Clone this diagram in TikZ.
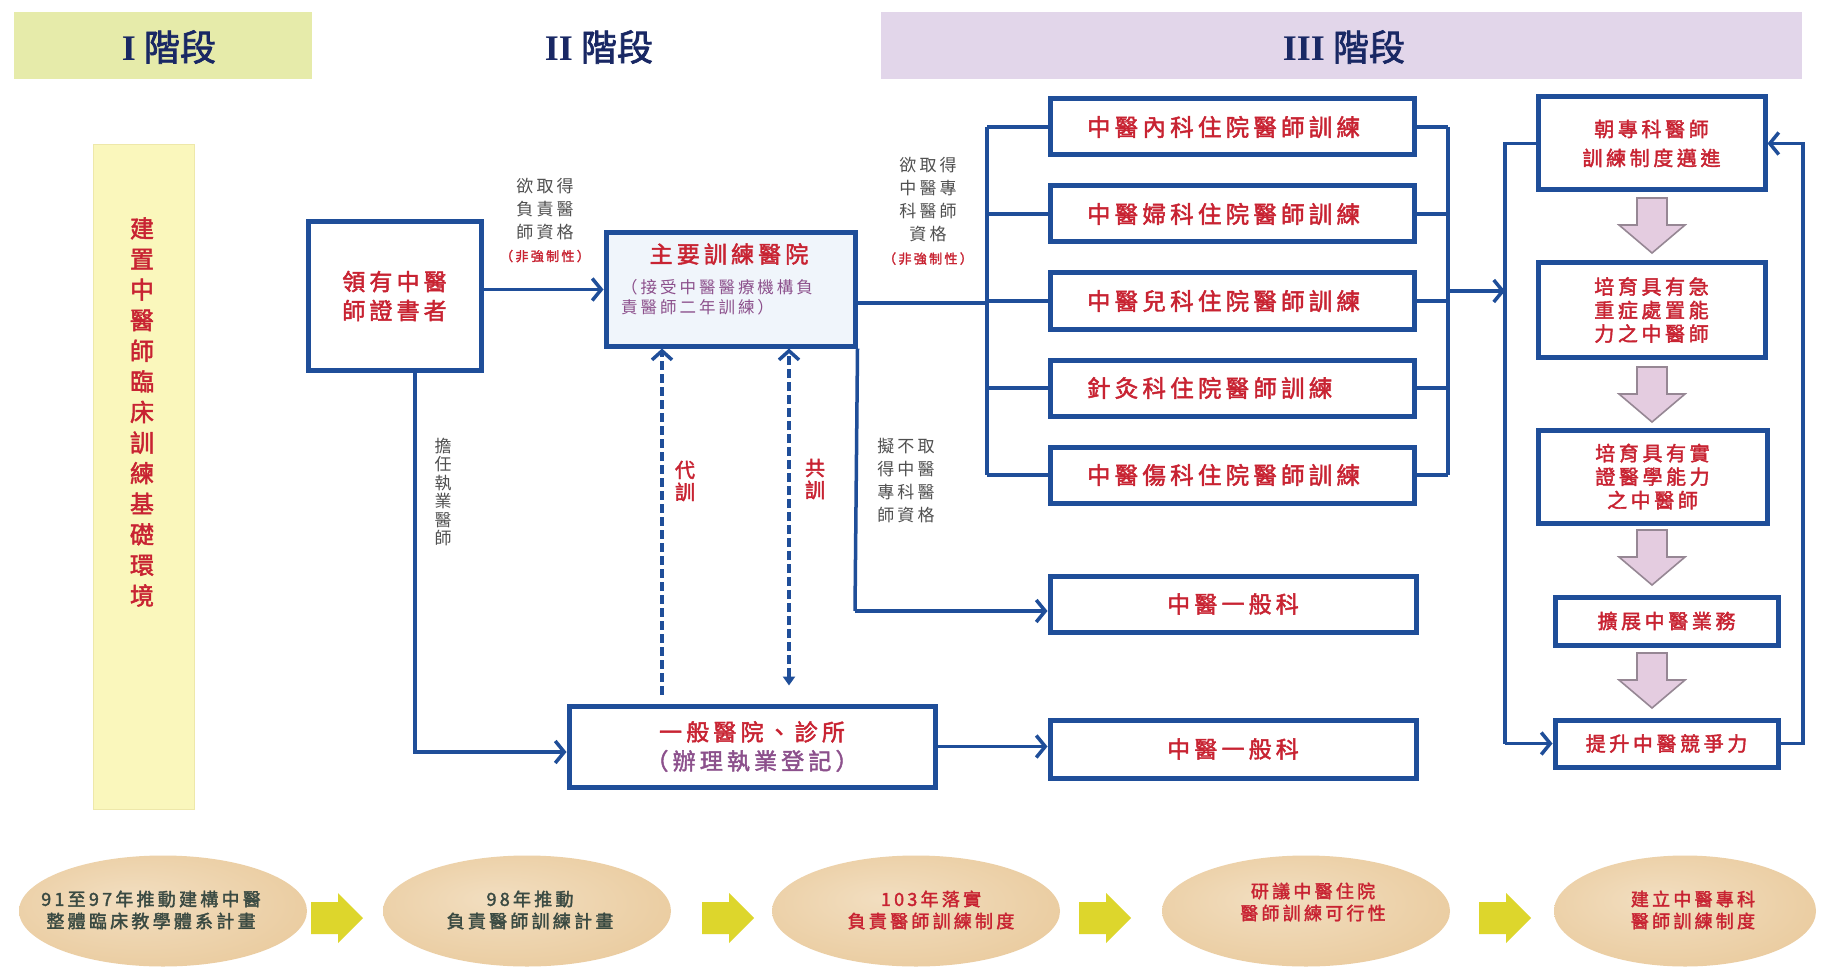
\documentclass[tikz,border=0pt]{standalone}
\usepackage{fontspec}
\setmainfont{Noto Sans CJK TC}[AutoFakeBold=2]
\newfontfamily\spfam{Noto Sans CJK TC}[AutoFakeBold=2, LetterSpace=18]
\newfontfamily\romfam{Liberation Serif}
\usetikzlibrary{arrows.meta,shapes.geometric}
\definecolor{navy}{RGB}{31,78,153}
\definecolor{tred}{RGB}{200,35,50}
\definecolor{tpur}{RGB}{140,80,140}
\definecolor{lgray}{RGB}{80,80,80}
\definecolor{hdr}{RGB}{25,40,100}
\definecolor{bandA}{RGB}{230,235,170}
\definecolor{bandC}{RGB}{226,214,234}
\definecolor{lband}{RGB}{250,247,188}
\definecolor{lbandb}{RGB}{238,232,170}
\definecolor{mfill}{RGB}{240,245,251}
\definecolor{yel}{RGB}{221,214,44}
\definecolor{pinkf}{RGB}{228,204,224}
\definecolor{pinkd}{RGB}{150,135,148}
\definecolor{eldark}{RGB}{58,74,66}
\definecolor{eltanL}{RGB}{242,222,192}
\definecolor{eltan}{RGB}{234,204,160}
\definecolor{eledge}{RGB}{248,236,220}
\pgfdeclareradialshading{elshade}{\pgfpoint{-6bp}{6bp}}{color(0bp)=(eltanL); color(30bp)=(eltan); color(44bp)=(eledge); color(50bp)=(white)}
\newcommand\fsz[2]{\fontsize{#1}{#2}\selectfont}
\newcommand\yarr[2]{\fill[yel] (#1-26,#2-16) -- (#1+1,#2-16) -- (#1+1,#2-25) -- (#1+26,#2) -- (#1+1,#2+25) -- (#1+1,#2+16) -- (#1-26,#2+16) -- cycle;}
\newcommand\parr[2]{\draw[pinka] (#1-15,#2) -- (#1+15,#2) -- (#1+15,#2+27) -- (#1+33,#2+27) -- (#1,#2+55) -- (#1-33,#2+27) -- (#1-15,#2+27) -- cycle;}
\tikzset{
  box/.style={draw=navy, line width=5pt, fill=white, inner sep=0pt, align=center, text=tred, font=\spfam\bfseries\fsz{23}{29}},
  conn/.style={draw=navy, line width=3.5pt},
  arr/.style={conn, -{Straight Barb[length=9pt,width=22pt]}},
  dsh/.style={draw=navy, line width=3.5pt, dash pattern=on 9pt off 4pt},
  lbl/.style={text=lgray, align=center, inner sep=0pt, font=\spfam\fsz{17}{23}},
  rlbl/.style={text=tred, align=center, inner sep=0pt, font=\spfam\bfseries\fsz{20}{22}},
  hdrt/.style={text=hdr, inner sep=0pt, font=\bfseries\fsz{36}{36}},
  ell/.style={ellipse, shade, shading=elshade, inner sep=0pt, minimum width=288pt, minimum height=111pt},
  eltxt/.style={align=center, inner sep=0pt, font=\spfam\bfseries\fsz{18}{22}},
  pinka/.style={fill=pinkf, draw=pinkd, line width=1.6pt, line join=miter},
  rbox/.style={box, font=\spfam\bfseries\fsz{20}{26}}
}
\begin{document}
\begin{tikzpicture}[x=1pt,y=-1pt]
\useasboundingbox[fill=white] (0,0) rectangle (1825,968);
% header bands
\node[fill=bandA, minimum width=298pt, minimum height=67pt, inner sep=0pt] (hA) at (163,45.5) {};
\node[fill=bandC, minimum width=921pt, minimum height=67pt, inner sep=0pt] (hC) at (1341.5,45.5) {};
\node[hdrt] (tA) at (169,47) {{\romfam\bfseries I} 階段};
\node[hdrt] (tB) at (599,47) {{\romfam\bfseries II} 階段};
\node[hdrt] (tC) at (1344,47) {{\romfam\bfseries III} 階段};
% left band
\node[fill=lband, draw=lbandb, line width=1pt, minimum width=101pt, minimum height=664pt, inner sep=0pt] (lb) at (143.5,477) {};
\node[text=tred, align=center, inner sep=0pt, font=\bfseries\fsz{24}{30.6}] (lbt) at (142,412) {建\\置\\中\\醫\\師\\臨\\床\\訓\\練\\基\\礎\\環\\境};
% stage II
\node[box, minimum width=173pt, minimum height=148pt] (lic) at (394.5,296) {領有中醫\\師證書者};
\node[box, fill=mfill, minimum width=249pt, minimum height=113pt] (main) at (730.5,289.5) {};
\node[text=tred, inner sep=0pt, font=\spfam\bfseries\fsz{23}{28}] (maint) at (729,254) {主要訓練醫院};
\node[text=tpur, align=left, inner sep=0pt, anchor=west, font=\spfam\fsz{16.5}{20}] (mains) at (621,297) {（接受中醫醫療機構負\\責醫師二年訓練）};
\node[lbl] (l1) at (545,220) {欲取得\\負責醫\\師資格\\{\color{tred}\bfseries\fsz{13}{20}（非強制性）}};
\node[lbl] (l2) at (928,211) {欲取得\\中醫專\\科醫師\\資格\\{\color{tred}\bfseries\fsz{13}{20}（非強制性）}};
\node[lbl] (l3) at (906,481) {擬不取\\得中醫\\專科醫\\師資格};
\node[lbl, font=\fsz{17}{18.5}] (l4) at (443,492) {擔\\任\\執\\業\\醫\\師};
\node[rlbl] (dai) at (685,481) {代\\訓};
\node[rlbl] (gong) at (815,479) {共\\訓};
% five residency boxes
\foreach \n/\y/\t in {b1/127/中醫內科住院醫師訓練, b2/214/中醫婦科住院醫師訓練, b3/301/中醫兒科住院醫師訓練, b4/388/針灸科住院醫師訓練, b5/475/中醫傷科住院醫師訓練}
  \node[box, align=left, text width=290pt, minimum width=364pt, minimum height=56pt, font=\spfam\bfseries\fsz{23.5}{29}] (\n) at (1232,\y) {\t};
\node[box, minimum width=366pt, minimum height=56pt] (g1) at (1233,604) {中醫一般科};
\node[box, minimum width=366pt, minimum height=58pt] (g2) at (1233,749) {中醫一般科};
\node[box, minimum width=366pt, minimum height=81pt] (gen) at (752,746.5) {一般醫院、診所\\{\color{tpur}（辦理執業登記）}};
% right column
\node[rbox, minimum width=227pt, minimum height=93pt, font=\spfam\bfseries\fsz{20}{29}] (A) at (1651.5,143.5) {朝專科醫師\\訓練制度邁進};
\node[rbox, minimum width=227pt, minimum height=94pt, font=\spfam\bfseries\fsz{20}{23.5}] (B) at (1651.5,310) {培育具有急\\重症處置能\\力之中醫師};
\node[rbox, minimum width=229pt, minimum height=93pt, font=\spfam\bfseries\fsz{20}{23.5}] (C) at (1652.5,476.5) {培育具有實\\證醫學能力\\之中醫師};
\node[rbox, minimum width=223pt, minimum height=48pt] (D) at (1666.5,621) {擴展中醫業務};
\node[rbox, minimum width=223pt, minimum height=47pt] (E) at (1666.5,743.5) {提升中醫競爭力};
\parr{1652}{198}
\parr{1652}{367}
\parr{1652}{530}
\parr{1652}{653}
% junction coordinates
\coordinate (bx) at (987,303);
\coordinate (rj) at (1448,291);
\coordinate (lj) at (1505,291);
\coordinate (rl) at (1803,0);
\coordinate (lv) at (415,752);
\coordinate (mv) at (855,611);
\coordinate (dl) at (662,0);
\coordinate (dr) at (789,0);
% connectors
\draw[arr] (lic.east |- main.west) -- (main.west);
\draw[conn] (main.east |- bx) -- (bx);
\draw[conn] (b1.west -| bx) -- (b5.west -| bx);
\foreach \n in {b1,b2,b3,b4,b5} {
  \draw[conn] (\n.west -| bx) -- (\n.west);
  \draw[conn] (\n.east) -- (\n.east -| rj);
}
\draw[conn] (b1.east -| rj) -- (b5.east -| rj);
\draw[arr] (rj) -- (lj);
\draw[conn] (A.west) -- (A.west -| lj) -- (E.west -| lj);
\draw[arr] (E.west -| lj) -- (E.west);
\draw[arr] (E.east) -- (E.east -| rl) -- (A.east -| rl) -- (A.east);
\draw[conn] (main.south east) -- (mv);
\draw[arr] (mv) -- (g1.west |- mv);
\draw[arr] (lic.south -| lv) -- (lv) -- (gen.west |- lv);
\draw[arr] (gen.east) -- (g2.west |- gen.east);
\draw[dsh, -{Straight Barb[length=9pt,width=20pt]}, shorten <=9pt] (gen.north -| dl) -- (main.south -| dl);
\draw[dsh, {Triangle[length=9pt,width=12pt]}-{Straight Barb[length=9pt,width=20pt]}, shorten <=18pt] (gen.north -| dr) -- (main.south -| dr);
% bottom timeline
\node[ell] (e1) at (163,911) {};
\node[ell] (e2) at (527,911) {};
\node[ell] (e3) at (916,911) {};
\node[ell] (e4) at (1306,911) {};
\node[ell, minimum width=262pt] (e5) at (1685,911) {};
\node[eltxt, text=eldark] (t1) at (151,910) {91至97年推動建構中醫\\整體臨床教學體系計畫};
\node[eltxt, text=eldark] (t2) at (530,910) {98年推動\\負責醫師訓練計畫};
\node[eltxt, text=tred] (t3) at (931,910) {103年落實\\負責醫師訓練制度};
\node[eltxt, text=tred] (t4) at (1313,902) {研議中醫住院\\醫師訓練可行性};
\node[eltxt, text=tred] (t5) at (1693,910) {建立中醫專科\\醫師訓練制度};
\yarr{337}{918}
\yarr{728}{918}
\yarr{1105}{918}
\yarr{1505}{918}
\end{tikzpicture}
\end{document}
